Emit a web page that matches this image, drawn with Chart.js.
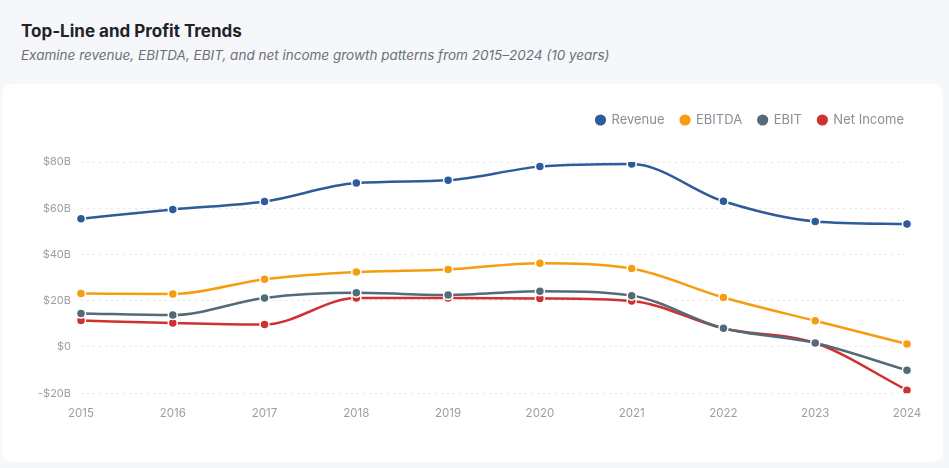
<!DOCTYPE html>
<html>
<head>
<meta charset="utf-8">
<script src="https://cdn.jsdelivr.net/npm/chart.js@4.4.1/dist/chart.umd.min.js"></script>
<style>
  body { margin: 0; background: #f5f7fa; font-family: Inter, "Noto Sans", sans-serif; width: 949px; height: 468px; overflow: hidden; }
  .title { position: absolute; left: 21px; top: 20px; font-size: 17px; line-height: 22px; font-weight: 700; color: #1f2328; }
  .subtitle { position: absolute; left: 21px; top: 46px; font-size: 13.5px; line-height: 18px; font-style: italic; color: #6b7078; }
  .card { position: absolute; left: 2px; top: 84px; width: 941px; height: 378px; background: #fff; border-radius: 10px; }
</style>
</head>
<body>
<div class="title">Top-Line and Profit Trends</div>
<div class="subtitle">Examine revenue, EBITDA, EBIT, and net income growth patterns from 2015–2024 (10 years)</div>
<div class="card"><canvas id="trendChart"></canvas></div>
<script>
// data, in billions
const years = ['2015', '2016', '2017', '2018', '2019', '2020', '2021', '2022', '2023', '2024'];
const revenue = [55.5, 59.5, 62.9, 70.9, 72.1, 78.0, 79.1, 63.0, 54.3, 53.2];
const ebitda = [23.1, 22.9, 29.3, 32.4, 33.5, 36.2, 33.9, 21.4, 11.3, 1.3];
const ebit = [14.5, 13.8, 21.2, 23.4, 22.5, 24.1, 22.2, 8.1, 1.7, -10.1];
const netIncome = [11.4, 10.4, 9.7, 21.2, 21.2, 21.0, 19.9, 8.0, 1.7, -18.7];

const makeSet = (label, color, values) => ({
  label: label,
  data: values,
  borderColor: color,
  backgroundColor: color,
  borderWidth: 2.5,
  cubicInterpolationMode: 'monotone',
  pointRadius: 4.5,
  pointBorderColor: '#fff',
  pointBorderWidth: 1.5,
  pointBackgroundColor: color
});

// push the plot down from the legend
const legendGap = {
  id: 'legendGap',
  beforeInit(chart) {
    const fit = chart.legend.fit;
    chart.legend.fit = function () {
      fit.bind(chart.legend)();
      this.height += 25.5;
    };
  }
};

const ctx = document.getElementById('trendChart').getContext('2d');
new Chart(ctx, {
  type: 'line',
  data: {
    labels: years,
    datasets: [
      makeSet('Revenue', '#2e5b99', revenue),
      makeSet('EBITDA', '#f59d0e', ebitda),
      makeSet('EBIT', '#536a78', ebit),
      makeSet('Net Income', '#d0302f', netIncome)
    ]
  },
  options: {
    responsive: true,
    maintainAspectRatio: false,
    animation: false,
    layout: { padding: { top: 13.5, left: 20, right: 23, bottom: 37 } },
    plugins: {
      legend: {
        position: 'top',
        align: 'end',
        labels: {
          usePointStyle: true,
          pointStyle: 'circle',
          boxWidth: 9,
          boxHeight: 9,
          padding: 16,
          color: '#8a8e96',
          font: { family: 'Inter', size: 13 }
        }
      },
      tooltip: { enabled: false }
    },
    scales: {
      x: {
        grid: { display: false },
        border: { display: false },
        ticks: { color: '#9a9ea6', padding: 5, font: { family: 'Inter', size: 11.5 } }
      },
      y: {
        min: -20,
        max: 80,
        afterFit: s => { s.width = 59; },
        border: { display: false, dash: [2, 4] },
        grid: { color: 'rgba(0,0,0,0.1)', drawTicks: false },
        ticks: {
          stepSize: 20,
          color: '#9a9ea6',
          padding: 10,
          font: { family: 'Inter', size: 11 },
          callback: v => (v < 0 ? '-$' + Math.abs(v) + 'B' : v === 0 ? '$0' : '$' + v + 'B')
        }
      },
      yRight: {
        position: 'right',
        display: true,
        afterFit: s => { s.width = 13; },
        border: { display: false },
        grid: { display: false, drawTicks: false },
        ticks: { display: false }
      }
    }
  },
  plugins: [legendGap]
});
</script>
</body>
</html>
